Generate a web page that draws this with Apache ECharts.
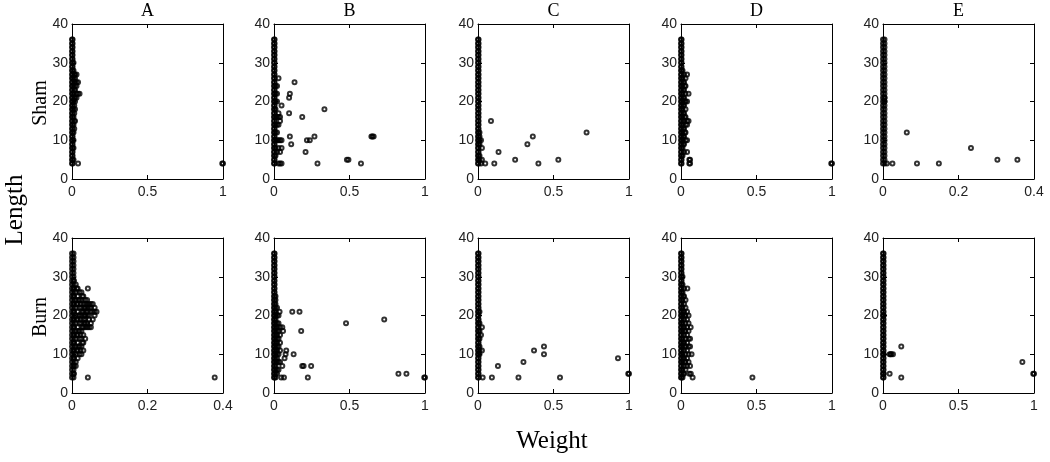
<!DOCTYPE html>
<html>
<head>
<meta charset="utf-8">
<script src="https://cdn.jsdelivr.net/npm/echarts@6/dist/echarts.min.js"></script>
<style>
html,body{margin:0;padding:0;background:#fff;}
#chart{width:1050px;height:462px;}
</style>
</head>
<body>
<div id="chart"></div>
<script>
// ---- data ----
const groups = ['A', 'B', 'C', 'D', 'E'];
const rowNames = ['Sham', 'Burn'];
const xAxisTitle = 'Weight';
const yAxisTitle = 'Length';
const shamXMax = [1, 1, 1, 1, 0.4];
const burnXMax = [0.4, 1, 1, 1, 1];
const yTicks = [0, 10, 20, 30, 40];

// lengths plotted at (near) weight 0 in every panel
const zeroWeightLengths = [4,5,6,7,8,9,10,11,12,13,14,15,16,17,18,19,20,21,22,23,24,25,26,27,28,29,30,31,32,33,34,35,36];
const nearZeroWeights = [0, 0.004];

const shamA = [[0.01,5],[0.01,8],[0.01,10],[0.01,12],[0.01,14],[0.01,16],[0.01,18],[0.01,20],[0.01,22],[0.01,24],[0.01,26],[0.01,28],[0.01,30],
  [0.015,13],[0.015,15],[0.015,17],[0.015,19],[0.015,21],[0.015,23],[0.015,25],[0.015,27],
  [0.02,15],[0.02,18],[0.02,20],[0.02,21],[0.02,23],[0.02,24],[0.02,25],[0.02,26],[0.02,27],
  [0.03,21],[0.03,22],[0.03,24],[0.03,25],[0.03,27],[0.04,22],[0.04,25],[0.05,22],[0.04,4],[1,4],[0.995,4]];

const shamB = [[0.01,6],[0.01,8],[0.01,10],[0.01,12],[0.01,14],[0.01,16],[0.01,18],[0.01,20],[0.01,22],[0.01,24],
  [0.02,7],[0.02,10],[0.02,12],[0.02,14],[0.02,16],[0.02,20],[0.02,22],[0.02,24],
  [0.03,4],[0.03,8],[0.03,10],[0.03,14],[0.03,16],[0.03,17],[0.03,26],
  [0.04,4],[0.04,7],[0.04,10],[0.04,15],[0.04,16],
  [0.05,4],[0.05,8],[0.05,10],[0.05,19],
  [0.10,21],[0.105,22],[0.136,25],[0.10,17],[0.105,11],[0.114,9],[0.187,16],[0.334,18],[0.209,7],[0.218,10],[0.237,10],[0.268,11],
  [0.288,4],[0.483,5],[0.493,5],[0.576,4],[0.645,11],[0.652,11],[0.66,11]];

const shamC = [[0.01,10],[0.01,11],[0.02,10],[0.01,9],[0.01,12],[0.01,5],[0.01,6],[0.02,4],
  [0.086,15],[0.026,8],[0.026,5],[0.048,4],[0.108,4],[0.136,7],[0.246,5],[0.327,9],[0.363,11],[0.40,4],[0.532,5],[0.719,12]];

const shamD = [[0.01,6],[0.01,8],[0.01,10],[0.01,12],[0.01,14],[0.01,16],[0.01,18],[0.01,20],[0.01,22],[0.01,24],[0.01,26],[0.01,28],
  [0.015,9],[0.015,11],[0.015,13],[0.015,15],[0.015,17],[0.015,19],[0.015,21],[0.015,23],[0.015,25],
  [0.02,7],[0.02,9],[0.02,11],[0.02,13],[0.02,15],[0.02,17],[0.02,19],[0.02,21],[0.02,23],[0.02,25],[0.02,27],
  [0.025,12],[0.025,16],[0.025,20],[0.025,24],
  [0.03,10],[0.03,12],[0.03,14],[0.03,16],[0.03,18],[0.03,20],[0.03,22],[0.03,24],[0.03,26],
  [0.04,10],[0.04,14],[0.04,15],[0.04,20],[0.04,27],[0.04,7],
  [0.05,15],[0.05,22],[0.055,5],[0.06,5],[0.06,4],[0.055,4],[1,4],[0.995,4]];

const shamE = [[0.004,20],[0.004,21],[0.0105,4],[0.025,4],[0.063,12],[0.09,4],[0.148,4],[0.233,8],[0.303,5],[0.356,5]];

const burnA = [[0.005,5],[0.005,7],[0.005,9],[0.005,11],[0.005,13],[0.005,15],[0.005,17],[0.005,19],[0.005,21],[0.005,23],[0.005,25],[0.005,27],[0.005,29],
  [0.01,7],[0.01,8],[0.01,10],[0.01,12],[0.01,14],[0.01,16],[0.01,18],[0.01,20],[0.01,22],[0.01,24],[0.01,26],[0.01,28],
  [0.0125,11],[0.0125,15],[0.0125,19],[0.0125,23],[0.0125,27],
  [0.015,9],[0.015,11],[0.015,13],[0.015,15],[0.015,17],[0.015,19],[0.015,21],[0.015,23],[0.015,25],[0.015,27],
  [0.0175,12],[0.0175,16],[0.0175,20],[0.0175,24],
  [0.02,10],[0.02,12],[0.02,14],[0.02,16],[0.02,18],[0.02,20],[0.02,22],[0.02,24],[0.02,26],
  [0.0225,11],[0.0225,15],[0.0225,19],[0.0225,23],
  [0.025,10],[0.025,12],[0.025,14],[0.025,16],[0.025,18],[0.025,20],[0.025,22],[0.025,24],[0.025,26],
  [0.0275,13],[0.0275,17],[0.0275,21],[0.0275,25],
  [0.03,11],[0.03,13],[0.03,15],[0.03,17],[0.03,19],[0.03,21],[0.03,23],[0.03,25],
  [0.0325,18],[0.0325,20],[0.0325,22],
  [0.035,14],[0.035,17],[0.035,18],[0.035,19],[0.035,20],[0.035,21],[0.035,22],[0.035,23],[0.035,24],
  [0.04,17],[0.04,18],[0.04,20],[0.04,21],[0.04,22],[0.04,23],[0.04,24],
  [0.045,17],[0.045,19],[0.045,20],[0.045,22],[0.045,23],
  [0.05,17],[0.05,18],[0.05,21],[0.05,22],[0.05,23],
  [0.055,19],[0.055,21],[0.055,23],[0.06,20],[0.06,21],[0.06,22],[0.065,21],
  [0.042,27],[0.042,4],[0.378,4]];

const burnB = [[0.01,4],[0.01,5],[0.01,6],[0.01,7],[0.01,8],[0.01,9],[0.01,10],[0.01,11],[0.01,12],[0.01,13],[0.01,14],[0.01,15],[0.01,16],[0.01,17],[0.01,18],[0.01,19],[0.01,20],[0.01,21],[0.01,22],[0.01,23],[0.01,24],[0.01,25],
  [0.02,5],[0.02,6],[0.02,8],[0.02,9],[0.02,10],[0.02,11],[0.02,12],[0.02,13],[0.02,14],[0.02,15],[0.02,16],[0.02,17],[0.02,18],[0.02,20],[0.02,22],
  [0.03,6],[0.03,8],[0.03,10],[0.03,12],[0.03,14],[0.03,16],[0.03,18],[0.03,20],
  [0.04,8],[0.04,11],[0.04,13],[0.04,15],[0.04,17],[0.037,21],
  [0.121,21],[0.169,21],[0.18,16],[0.477,18],[0.73,19],[0.13,10],[0.187,7],[0.196,7],[0.246,7],[0.224,4],[0.824,5],[0.877,5],[1,4],[0.995,4],
  [0.077,10],[0.07,9],[0.081,11],[0.06,16],[0.055,17],[0.055,7],[0.048,4],[0.066,4]];

const burnC = [[0.01,10],[0.01,11],[0.01,12],[0.01,14],[0.01,16],[0.01,18],[0.01,21],
  [0.026,17],[0.02,15],[0.026,11],[0.031,4],[0.092,4],[0.132,7],[0.268,4],[0.301,8],[0.371,11],[0.437,12],[0.437,10],[0.543,4],[0.927,9],[1,5],[0.995,5]];

const burnD = [[0.01,4],[0.01,6],[0.01,8],[0.01,10],[0.01,12],[0.01,14],[0.01,16],[0.01,18],[0.01,20],[0.01,22],[0.01,24],[0.01,26],[0.01,28],[0.01,30],
  [0.015,5],[0.015,9],[0.015,13],[0.015,17],[0.015,21],[0.015,25],
  [0.02,5],[0.02,7],[0.02,9],[0.02,11],[0.02,13],[0.02,15],[0.02,17],[0.02,19],[0.02,21],[0.02,23],[0.02,25],[0.02,27],
  [0.025,8],[0.025,12],[0.025,16],[0.025,20],
  [0.03,6],[0.03,8],[0.03,10],[0.03,12],[0.03,14],[0.03,16],[0.03,18],[0.03,20],[0.03,22],[0.03,24],
  [0.04,7],[0.04,9],[0.04,11],[0.04,13],[0.04,15],[0.04,17],[0.04,19],[0.04,21],[0.042,27],
  [0.05,8],[0.05,10],[0.05,12],[0.05,14],[0.05,16],[0.05,18],[0.05,20],
  [0.06,7],[0.055,5],[0.064,17],[0.06,12],[0.06,14],[0.07,10],[0.077,4],[0.065,5],[0.473,4]];

const burnE = [[0.004,5],[0.004,10],[0.004,20],[0.044,10],[0.05,10],[0.055,10],[0.066,10],[0.044,5],[0.121,12],[0.121,4],[0.923,8],[1,5],[0.995,5]];

const shamRow = [shamA, shamB, shamC, shamD, shamE];
const burnRow = [burnA, burnB, burnC, burnD, burnE];

// ---- layout ----
const panelLefts = [72, 274, 478, 681, 883];
const panelWidth = 151;
const rowTops = [24, 238];
const panelHeight = 155;

const grids = [], xAxes = [], yAxes = [], series = [], graphics = [];
const fontSans = '"Liberation Sans", Arial, sans-serif';
const fontSerif = '"Liberation Serif", "Times New Roman", serif';

[shamRow, burnRow].forEach((row, r) => {
  const xMaxes = r === 0 ? shamXMax : burnXMax;
  row.forEach((pts, c) => {
    const gi = grids.length;
    grids.push({left: panelLefts[c], top: rowTops[r], width: panelWidth, height: panelHeight,
      show: false, containLabel: false});
    const xMax = xMaxes[c];
    const common = {
      type: 'value', gridIndex: gi, splitLine: {show: false},
      axisLine: {show: true, onZero: false, lineStyle: {color: '#000', width: 1}},
      axisTick: {show: true, inside: true, length: 4, lineStyle: {color: '#000', width: 1}}
    };
    xAxes.push(Object.assign({}, common, {position: 'bottom', min: 0, max: xMax, interval: xMax / 2,
      axisLabel: {show: true, color: '#222', fontSize: 14, fontFamily: fontSans, margin: 6,
        formatter: v => String(+v.toFixed(2))}}));
    xAxes.push(Object.assign({}, common, {position: 'top', min: 0, max: xMax, interval: xMax / 2,
      axisLabel: {show: false}}));
    yAxes.push(Object.assign({}, common, {position: 'left', min: yTicks[0], max: yTicks[yTicks.length-1], interval: 10,
      axisLabel: {show: true, color: '#222', fontSize: 14, fontFamily: fontSans, margin: 4}}));
    yAxes.push(Object.assign({}, common, {position: 'right', min: yTicks[0], max: yTicks[yTicks.length-1], interval: 10,
      axisLabel: {show: false}}));
    let data = [];
    nearZeroWeights.forEach(w => { data = data.concat(zeroWeightLengths.map(y => [w, y])); });
    data = data.concat(pts);
    series.push({
      type: 'scatter', xAxisIndex: gi * 2, yAxisIndex: gi * 2, data: data,
      symbol: 'circle', symbolSize: 4, clip: false,
      itemStyle: {color: 'rgba(0,0,0,0)', borderColor: '#000', borderWidth: 2},
      emphasis: {disabled: true}, silent: true
    });
  });
});

groups.forEach((g, c) => {
  graphics.push({type: 'text', x: panelLefts[c] + panelWidth / 2, y: 11,
    style: {text: g, font: '18px ' + fontSerif, fill: '#000', textAlign: 'center', textVerticalAlign: 'middle'}});
});
rowNames.forEach((name, r) => {
  graphics.push({type: 'text', x: 41, y: rowTops[r] + 79, rotation: Math.PI / 2,
    style: {text: name, font: '20px ' + fontSerif, fill: '#000', textAlign: 'center', textVerticalAlign: 'middle'}});
});
graphics.push({type: 'text', x: 15, y: 210, rotation: Math.PI / 2,
  style: {text: yAxisTitle, font: '25px ' + fontSerif, fill: '#000', textAlign: 'center', textVerticalAlign: 'middle'}});
graphics.push({type: 'text', x: 552, y: 441,
  style: {text: xAxisTitle, font: '25px ' + fontSerif, fill: '#000', textAlign: 'center', textVerticalAlign: 'middle'}});

const chart = echarts.init(document.getElementById('chart'), null, {renderer: 'canvas'});
chart.setOption({
  animation: false,
  backgroundColor: '#fff',
  grid: grids, xAxis: xAxes, yAxis: yAxes, series: series, graphic: graphics
});
</script>
</body>
</html>
